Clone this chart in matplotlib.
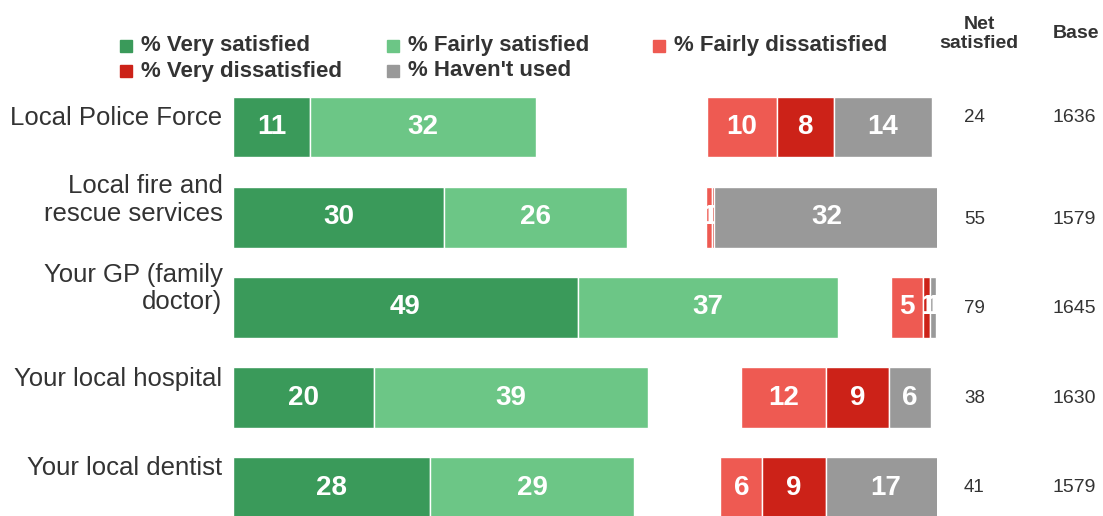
import numpy as np
import matplotlib
matplotlib.use('Agg')
import matplotlib.pyplot as plt
from matplotlib.patches import Rectangle

plt.rcParams['font.family'] = ['Liberation Sans', 'DejaVu Sans']

# Data
services = ['Local Police Force', 'Local fire and\nrescue services', 'Your GP (family\ndoctor)',
            'Your local hospital', 'Your local dentist']
very_sat = [11, 30, 49, 20, 28]
fairly_sat = [32, 26, 37, 39, 29]
neither = [24.3, 11.2, 7.4, 13.2, 12.2]      # not drawn, only pushes the second group right
fairly_dis = [10, 0.8, 4.6, 12, 6]
very_dis = [8, 0.3, 1.0, 9, 9]
not_used = [14, 32, 0.8, 6, 17]
net_sat = [24, 55, 79, 38, 41]
base = [1636, 1579, 1645, 1630, 1579]

# colours
c_vs = '#3a9a5a'
c_fs = '#6cc686'
c_fd = '#ee5a52'
c_vd = '#cc2218'
c_nu = '#999999'
txt = '#333333'

fig = plt.figure(figsize=(11.03, 5.16), dpi=100)
W, H = 1103.0, 516.0
ax = fig.add_axes([233 / W, 0, 704 / W, 436 / H])
ax.set_xlim(0, 100)
ax.set_ylim(4.313, -0.521)
ax.axis('off')

y = np.arange(len(services))
bh = 0.675

# stack the segments
segments = [(very_sat, c_vs, True), (fairly_sat, c_fs, True), (neither, None, False),
            (fairly_dis, c_fd, True), (very_dis, c_vd, True), (not_used, c_nu, True)]
left = np.zeros(len(services))
for vals, col, show in segments:
    vals = np.array(vals, dtype=float)
    if show:
        bars = ax.barh(y, vals, left=left, height=bh, color=col, edgecolor='white', linewidth=1)
        for b, v in zip(bars, vals):
            t = ax.text(b.get_x() + b.get_width() / 2, b.get_y() + b.get_height() / 2,
                        '%d' % round(v), ha='center', va='center', color='white',
                        fontsize=20, fontweight='bold', clip_on=True)
            # labels are cut to their own segment, like in the original
            t.set_clip_path(b)
    left = left + vals

# category labels, net satisfied and base columns
label_dy = [-0.105, -0.19, -0.21, -0.205, -0.215]
num_dy = [-0.1, 0.03, 0.01, 0.01, 0.0]
for i in range(len(services)):
    ax.text(-1.5, y[i] + label_dy[i], services[i], ha='right', va='center', fontsize=18.5,
            color=txt, linespacing=1.18)
    ax.text(105.3, y[i] + num_dy[i], str(net_sat[i]), ha='center', va='center', fontsize=13.5,
            color=txt, clip_on=False)
    ax.text(119.5, y[i] + num_dy[i], str(base[i]), ha='center', va='center', fontsize=14,
            color=txt, clip_on=False)

# column headers
fig.text(979 / W, 1 - 34 / H, 'Net\nsatisfied', ha='center', va='center', fontsize=14,
         fontweight='bold', color=txt, linespacing=1.1)
fig.text(1076 / W, 1 - 34 / H, 'Base', ha='center', va='center', fontsize=14,
         fontweight='bold', color=txt)

# legend drawn by hand (row-wise order as in the original)
leg_names = ['% Very satisfied', '% Fairly satisfied', '% Fairly dissatisfied',
             '% Very dissatisfied', "% Haven't used"]
leg_cols = [c_vs, c_fs, c_fd, c_vd, c_nu]
leg_x = [120, 387, 653, 120, 387]
leg_y = [46, 46, 46, 71, 71]
for name, col, lx, ly in zip(leg_names, leg_cols, leg_x, leg_y):
    fig.patches.append(Rectangle((lx / W, 1 - (ly + 6) / H), 12 / W, 12 / H,
                                 transform=fig.transFigure, color=col))
    fig.text((lx + 21) / W, 1 - ly / H, name, ha='left', va='center', fontsize=16,
             fontweight='bold', color=txt)

fig.savefig('out.png', dpi=100)
